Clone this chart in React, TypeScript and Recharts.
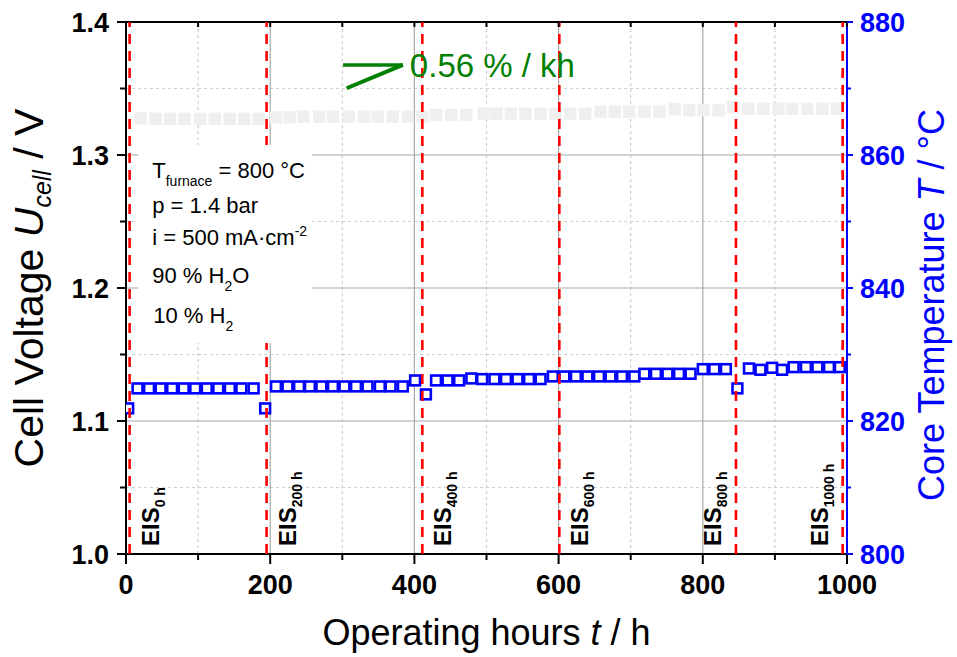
import React from "react";
import {
  ScatterChart,
  Scatter,
  XAxis,
  YAxis,
  ReferenceLine,
  ReferenceArea,
  ReferenceDot,
} from "recharts";

const FONT = "'Liberation Sans', Arial, Helvetica, sans-serif";

// cell voltage (grey squares)
const voltHours = [
  20, 41, 61, 81, 103, 123, 144, 164, 184, 208, 227, 246, 268, 287, 309, 330,
  349, 370, 391, 411, 430, 451, 472, 496, 514, 534, 554, 575, 596, 616, 637,
  658, 678, 698, 719, 740, 761, 781, 801, 822, 842, 863, 884, 905, 924, 945,
  966, 986,
];
const voltValues = [
  1.3276, 1.3272, 1.3272, 1.3272, 1.3272, 1.3272, 1.3272, 1.3272, 1.3272,
  1.3283, 1.3283, 1.3288, 1.3288, 1.3288, 1.3288, 1.3288, 1.3288, 1.3288,
  1.3288, 1.3288, 1.3301, 1.3301, 1.3301, 1.3311, 1.3311, 1.3311, 1.3311,
  1.3311, 1.3311, 1.3311, 1.3311, 1.3326, 1.3326, 1.3326, 1.3326, 1.3326,
  1.3344, 1.3336, 1.3336, 1.3336, 1.3359, 1.3347, 1.3347, 1.3347, 1.3347,
  1.3347, 1.3347, 1.3347,
];

// core temperature (blue squares)
const tempHours = [
  3, 16, 32, 48, 64, 80, 96, 112, 128, 144, 160, 177, 193, 208, 224, 240, 255,
  271, 287, 303, 319, 335, 352, 367, 384, 401, 416, 430, 446, 462, 479, 494,
  511, 527, 543, 559, 575, 592, 608, 624, 640, 656, 672, 688, 705, 719, 735,
  751, 767, 783, 800, 816, 832, 848, 864, 880, 896, 910, 926, 943, 959, 975,
  990,
];
const tempValues = [
  821.9, 824.9, 824.9, 824.9, 824.9, 824.9, 824.9, 824.9, 824.9, 824.9, 824.9,
  824.9, 821.9, 825.2, 825.2, 825.2, 825.2, 825.2, 825.2, 825.2, 825.2, 825.2,
  825.2, 825.2, 825.2, 826.1, 824.0, 826.1, 826.1, 826.1, 826.4, 826.3, 826.3,
  826.3, 826.3, 826.3, 826.3, 826.7, 826.7, 826.7, 826.7, 826.7, 826.7, 826.7,
  826.7, 827.1, 827.1, 827.1, 827.1, 827.1, 827.8, 827.8, 827.8, 824.9, 827.9,
  827.7, 828.0, 827.7, 828.1, 828.1, 828.1, 828.1, 828.1,
];

// EIS measurements
const eisHours = [5, 195, 411, 601, 846, 994];
const eisTags = ["0 h", "200 h", "400 h", "600 h", "800 h", "1000 h"];
const eisLeftOfLine = [false, false, false, false, true, true];

const hourTicks = [0, 100, 200, 300, 400, 500, 600, 700, 800, 900, 1000];
const voltTicks = [1.0, 1.05, 1.1, 1.15, 1.2, 1.25, 1.3, 1.35, 1.4];
const tempTicks = [800, 810, 820, 830, 840, 850, 860, 870, 880];
const hourGridMajor = [200, 400, 600, 800];
const hourGridMinor = [100, 300, 500, 700, 900];
const voltGridMajor = [1.1, 1.2, 1.3];
const voltGridMinor = [1.05, 1.15, 1.25, 1.35];

// degradation rate annotation
const slopeText = "0.56 % / kh";
const slopeTip = { t: 384, v: 1.3677 };
const slopeLeftTop = { t: 301, v: 1.3677 };
const slopeLeftBottom = { t: 306, v: 1.3502 };

const voltData = voltHours.map((t, i) => ({ t, v: voltValues[i] }));
const tempData = tempHours.map((t, i) => ({ t, temp: tempValues[i] }));

const GreySquare = (p: any) => (
  <rect x={p.cx - 6.2} y={p.cy - 6.2} width={12.4} height={12.4} fill="#eeefee" />
);

const BlueSquare = (p: any) => (
  <rect
    x={p.cx - 4.9}
    y={p.cy - 4.9}
    width={9.8}
    height={9.8}
    fill="#fff"
    stroke="#0000ff"
    strokeWidth={2.6}
  />
);

const BottomTick = (p: any) => {
  const major = p.payload.value % 200 === 0;
  return (
    <g>
      <line x1={p.x} x2={p.x} y1={p.y} y2={p.y + (major ? 10 : 6)} stroke="#000" strokeWidth={2} />
      {major && (
        <text x={p.x} y={p.y + 40} textAnchor="middle" fontFamily={FONT} fontWeight="bold" fontSize={27} fill="#000">
          {p.payload.value}
        </text>
      )}
    </g>
  );
};

const TopTick = (p: any) => (
  <line x1={p.x} x2={p.x} y1={p.y} y2={p.y + 5} stroke="#000" strokeWidth={2} />
);

const LeftTick = (p: any) => {
  const major = Math.round(p.payload.value * 100) % 10 === 0;
  return (
    <g>
      <line x1={p.x} x2={p.x - (major ? 9 : 6)} y1={p.y} y2={p.y} stroke="#000" strokeWidth={2} />
      {major && (
        <text x={p.x - 17} y={p.y} dy="0.36em" textAnchor="end" fontFamily={FONT} fontWeight="bold" fontSize={27} fill="#000">
          {p.payload.value.toFixed(1)}
        </text>
      )}
    </g>
  );
};

const RightTick = (p: any) => {
  const major = p.payload.value % 20 === 0;
  return (
    <g>
      <line x1={p.x} x2={p.x + (major ? 6 : 4)} y1={p.y} y2={p.y} stroke="#0000ff" strokeWidth={2} />
      {major && (
        <text x={p.x + 13} y={p.y} dy="0.36em" textAnchor="start" fontFamily={FONT} fontWeight="bold" fontSize={27} fill="#0000ff">
          {p.payload.value}
        </text>
      )}
    </g>
  );
};

const XTitle = (p: any) => {
  const vb = p.viewBox;
  return (
    <text x={vb.x + vb.width / 2} y={645} textAnchor="middle" fontFamily={FONT} fontSize={36} fill="#000" style={{ whiteSpace: "pre" }}>
      Operating hours <tspan fontStyle="italic">t</tspan> / h
    </text>
  );
};

const LeftTitle = (p: any) => {
  const vb = p.viewBox;
  const cy = vb.y + vb.height / 2;
  return (
    <text
      x={43}
      y={cy}
      transform={`rotate(-90, 43, ${cy})`}
      textAnchor="middle"
      fontFamily={FONT}
      fontSize={41}
      fill="#000"
      style={{ whiteSpace: "pre" }}
    >
      Cell Voltage <tspan fontStyle="italic">U</tspan>
      <tspan fontStyle="italic" fontSize={25} dy={8}>cell</tspan>
      <tspan dy={-8}> / V</tspan>
    </text>
  );
};

const RightTitle = (p: any) => {
  const vb = p.viewBox;
  const cy = vb.y + vb.height / 2 + 17;
  return (
    <text
      x={944}
      y={cy}
      transform={`rotate(-90, 944, ${cy})`}
      textAnchor="middle"
      fontFamily={FONT}
      fontSize={36}
      fill="#0000ff"
      style={{ whiteSpace: "pre" }}
    >
      Core Temperature <tspan fontStyle="italic">T</tspan> / °C
    </text>
  );
};

const EisLabel = (p: any) => {
  const vb = p.viewBox;
  const bx = p.left ? vb.x - 15 : vb.x + 29;
  const by = vb.y + vb.height - 8;
  return (
    <text
      x={bx}
      y={by}
      transform={`rotate(-90, ${bx}, ${by})`}
      fontFamily={FONT}
      fontWeight="bold"
      fontSize={24}
      fill="#000"
      style={{ whiteSpace: "pre" }}
    >
      EIS<tspan fontSize={14} dy={6}>{p.tag}</tspan>
    </text>
  );
};

const ConditionsText = (p: any) => {
  const vb = p.viewBox;
  const x = vb.x + 14;
  const y = vb.y;
  return (
    <text fontFamily={FONT} fontSize={22} fill="#000" style={{ whiteSpace: "pre" }}>
      <tspan x={x} y={y + 33}>T</tspan>
      <tspan fontSize={14} dy={8}>furnace</tspan>
      <tspan dy={-8}> = 800 °C</tspan>
      <tspan x={x} y={y + 68}>p = 1.4 bar</tspan>
      <tspan x={x} y={y + 100}>i = 500 mA·cm</tspan>
      <tspan fontSize={14} dy={-9}>-2</tspan>
      <tspan x={x} y={y + 138}>90 % H</tspan>
      <tspan fontSize={14} dy={8}>2</tspan>
      <tspan dy={-8}>O</tspan>
      <tspan x={x + 1} y={y + 178}>10 % H</tspan>
      <tspan fontSize={14} dy={8}>2</tspan>
    </text>
  );
};

const SlopeLabel = (p: any) => {
  const vb = p.viewBox;
  const cx = vb.x + vb.width / 2;
  const cy = vb.y + vb.height / 2;
  return (
    <text x={cx + 7} y={cy + 12} fontFamily={FONT} fontSize={33} fill="#008000" style={{ whiteSpace: "pre" }}>
      {slopeText}
    </text>
  );
};

export default function App() {
  return (
    <div style={{ position: "absolute", left: 0, top: 0 }}>
      <ScatterChart width={957} height={657} margin={{ top: 0, right: 0, bottom: 0, left: 0 }}>
        <XAxis
          dataKey="t"
          type="number"
          domain={[0, 1000]}
          ticks={hourTicks}
          interval={0}
          height={103}
          tickSize={0}
          tickMargin={0}
          tickLine={false}
          axisLine={{ stroke: "#000", strokeWidth: 2 }}
          tick={BottomTick}
          label={XTitle}
          allowDataOverflow
        />
        <XAxis
          xAxisId="top"
          orientation="top"
          dataKey="t"
          type="number"
          domain={[0, 1000]}
          ticks={hourTicks}
          interval={0}
          height={22}
          tickSize={0}
          tickMargin={0}
          tickLine={false}
          axisLine={{ stroke: "#000", strokeWidth: 2 }}
          tick={TopTick}
          allowDataOverflow
        />
        <YAxis
          yAxisId="V"
          dataKey="v"
          type="number"
          domain={[1.0, 1.4]}
          ticks={voltTicks}
          interval={0}
          width={126}
          tickSize={0}
          tickMargin={0}
          tickLine={false}
          axisLine={{ stroke: "#000", strokeWidth: 2 }}
          tick={LeftTick}
          label={LeftTitle}
          allowDataOverflow
        />
        <YAxis
          yAxisId="T"
          orientation="right"
          dataKey="temp"
          type="number"
          domain={[800, 880]}
          ticks={tempTicks}
          interval={0}
          width={110}
          tickSize={0}
          tickMargin={0}
          tickLine={false}
          axisLine={{ stroke: "#0000ff", strokeWidth: 2 }}
          tick={RightTick}
          label={RightTitle}
          allowDataOverflow
        />

        {hourGridMinor.map((h) => (
          <ReferenceLine key={"hm" + h} x={h} yAxisId="V" stroke="#cfcfcf" strokeWidth={1.2} strokeDasharray="3 3" zIndex={50} />
        ))}
        {voltGridMinor.map((v) => (
          <ReferenceLine key={"vm" + v} y={v} yAxisId="V" stroke="#cfcfcf" strokeWidth={1.2} strokeDasharray="3 3" zIndex={50} />
        ))}
        {hourGridMajor.map((h) => (
          <ReferenceLine key={"hM" + h} x={h} yAxisId="V" stroke="#a8a8a8" strokeWidth={1.2} zIndex={60} />
        ))}
        {voltGridMajor.map((v) => (
          <ReferenceLine key={"vM" + v} y={v} yAxisId="V" stroke="#a8a8a8" strokeWidth={1.2} zIndex={60} />
        ))}

        <Scatter data={voltData} yAxisId="V" shape={GreySquare} isAnimationActive={false} />
        <Scatter data={tempData} yAxisId="T" shape={BlueSquare} isAnimationActive={false} />

        {eisHours.map((h, i) => (
          <ReferenceLine
            key={"eis" + h}
            x={h}
            yAxisId="V"
            stroke="#ff0000"
            strokeWidth={2.6}
            strokeDasharray="10 7"
            zIndex={700}
            label={(p: any) => <EisLabel {...p} tag={eisTags[i]} left={eisLeftOfLine[i]} />}
          />
        ))}

        <ReferenceArea
          x1={17}
          x2={258}
          y1={1.1586}
          y2={1.3075}
          yAxisId="V"
          fill="#ffffff"
          fillOpacity={1}
          stroke="none"
          zIndex={800}
          label={ConditionsText}
        />

        <ReferenceLine
          yAxisId="V"
          segment={[
            { x: slopeLeftTop.t, y: slopeLeftTop.v },
            { x: slopeTip.t, y: slopeTip.v },
          ]}
          stroke="#008000"
          strokeWidth={3.5}
          zIndex={900}
        />
        <ReferenceLine
          yAxisId="V"
          segment={[
            { x: slopeLeftBottom.t, y: slopeLeftBottom.v },
            { x: slopeTip.t, y: slopeTip.v },
          ]}
          stroke="#008000"
          strokeWidth={4}
          zIndex={900}
        />
        <ReferenceDot
          x={slopeTip.t}
          y={slopeTip.v}
          yAxisId="V"
          r={0}
          fill="none"
          stroke="none"
          zIndex={900}
          label={SlopeLabel}
        />
      </ScatterChart>
    </div>
  );
}
